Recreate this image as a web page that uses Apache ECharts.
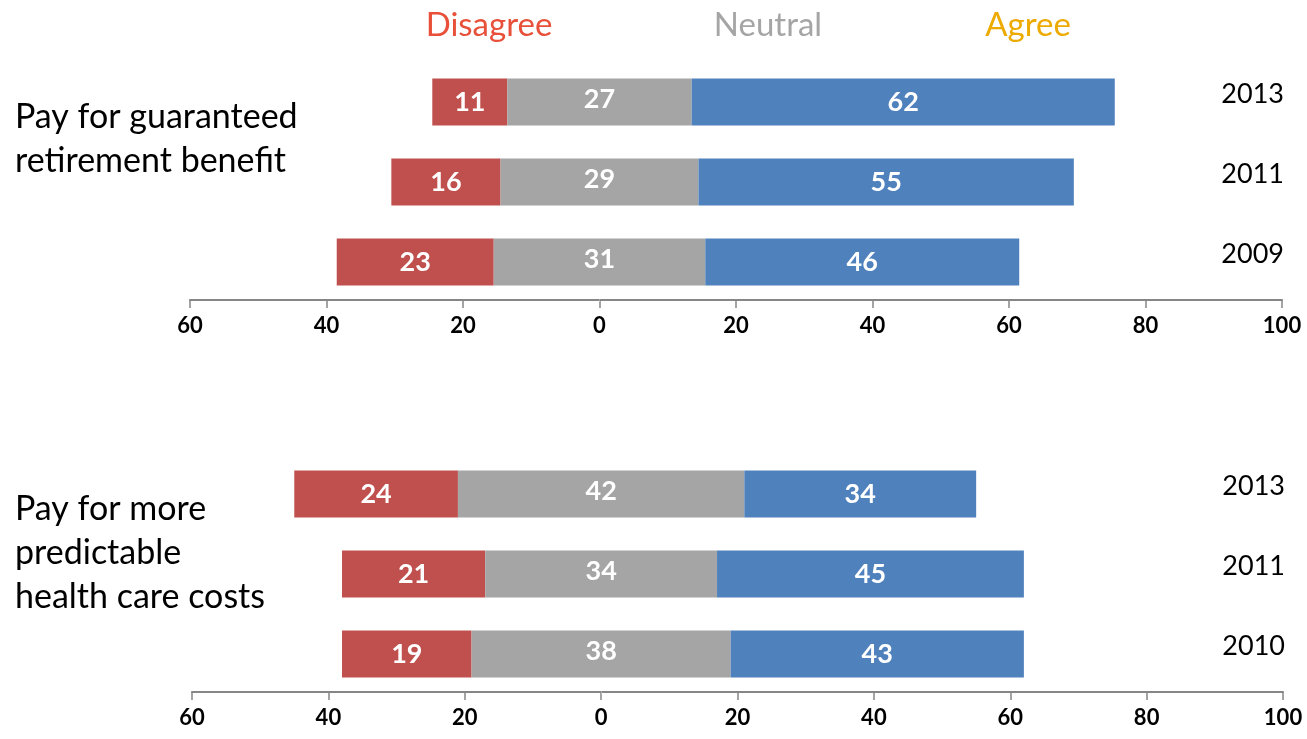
<!DOCTYPE html>
<html>
<head>
<meta charset="utf-8">
<script src="https://cdn.jsdelivr.net/npm/echarts@6/dist/echarts.min.js"></script>
<style>
html,body{margin:0;padding:0;background:#fff;}
#chart{width:1307px;height:739px;}
</style>
</head>
<body>
<div id="chart"></div>
<script>
// Panel 1: Pay for guaranteed retirement benefit
const years1 = ['2013', '2011', '2009'];
const disagree1 = [11, 16, 23];
const neutral1 = [27, 29, 31];
const agree1 = [62, 55, 46];

// Panel 2: Pay for more predictable health care costs
const years2 = ['2013', '2011', '2010'];
const disagree2 = [24, 21, 19];
const neutral2 = [42, 34, 38];
const agree2 = [34, 45, 43];

const axisTicks = [-60, -40, -20, 0, 20, 40, 60, 80, 100];
const legendNames = ['Disagree', 'Neutral', 'Agree'];
const panelTitles = ['Pay for guaranteed\nretirement benefit', 'Pay for more\npredictable\nhealth care costs'];

const FONT = 'Lato, "Open Sans", sans-serif';
const C_RED = '#C0504D', C_GRAY = '#A5A5A5', C_BLUE = '#4F81BD';

function makeSeries(idx, dis, neu, agr) {
  const base = dis.map((d, i) => -(d + neu[i] / 2));
  const common = {
    type: 'bar', stack: 's' + idx, stackStrategy: 'all',
    xAxisIndex: idx, yAxisIndex: idx, barWidth: 47
  };
  const lbl = () => ({
    show: true, position: 'inside', color: '#fff', fontSize: 27,
    fontWeight: 'bold', fontFamily: FONT
  });
  return [
    Object.assign({}, common, {
      name: 'base' + idx, data: base, silent: true,
      itemStyle: { color: 'transparent' }, label: { show: false }
    }),
    Object.assign({}, common, {
      name: legendNames[0], data: dis, itemStyle: { color: C_RED }, label: lbl()
    }),
    Object.assign({}, common, {
      name: legendNames[1], data: neu, itemStyle: { color: C_GRAY },
      label: Object.assign(lbl(), { offset: [0, -3] }),
      markLine: {
        silent: true, symbol: 'none', label: { show: false }, z: 1,
        lineStyle: { color: 'rgba(255,255,255,0.3)', width: 1, type: 'solid' },
        data: [{ xAxis: 0 }]
      }
    }),
    Object.assign({}, common, {
      name: legendNames[2], data: agr, itemStyle: { color: C_BLUE }, label: lbl()
    })
  ];
}

function makeXAxis(idx) {
  return {
    type: 'value', gridIndex: idx, min: axisTicks[0], max: axisTicks[axisTicks.length - 1],
    interval: 20, position: 'bottom', offset: -2,
    splitLine: { show: false },
    axisLine: { show: true, lineStyle: { color: '#868686', width: 2 } },
    axisTick: { show: true, length: 8, lineStyle: { color: '#868686', width: 1.5 } },
    axisLabel: {
      formatter: v => String(Math.abs(v)), color: '#000', fontSize: 22,
      fontWeight: 'bold', fontFamily: FONT, margin: 15
    }
  };
}

function makeYAxis(idx, years) {
  return {
    type: 'category', gridIndex: idx, data: years, inverse: true, position: 'right',
    axisLine: { show: false }, axisTick: { show: false },
    axisLabel: {
      inside: true, margin: -2, color: '#000', fontSize: 27, fontFamily: FONT,
      verticalAlign: 'bottom', lineHeight: 16
    }
  };
}

const chart = echarts.init(document.getElementById('chart'), null, { renderer: 'canvas' });

const legendX = [489, 768, 1028];
const legendColors = ['#E8503A', '#A5A5A5', '#EDAA00'];

const graphics = [];
legendNames.forEach((n, i) => {
  graphics.push({
    type: 'text', x: legendX[i], y: 25,
    style: { text: n, fill: legendColors[i], font: '33px ' + FONT, textAlign: 'center', textVerticalAlign: 'middle' }
  });
});
graphics.push({
  type: 'text', x: 15, y: 95,
  style: { text: panelTitles[0], fill: '#000', font: '34px ' + FONT, lineHeight: 44, textAlign: 'left', textVerticalAlign: 'top' }
});
graphics.push({
  type: 'text', x: 15, y: 487,
  style: { text: panelTitles[1], fill: '#000', font: '34px ' + FONT, lineHeight: 44, textAlign: 'left', textVerticalAlign: 'top' }
});

chart.setOption({
  animation: false,
  backgroundColor: '#fff',
  grid: [
    { left: 190, width: 1092, top: 62, height: 240 },
    { left: 192, width: 1091, top: 454, height: 240 }
  ],
  xAxis: [makeXAxis(0), makeXAxis(1)],
  yAxis: [makeYAxis(0, years1), makeYAxis(1, years2)],
  series: [].concat(makeSeries(0, disagree1, neutral1, agree1), makeSeries(1, disagree2, neutral2, agree2)),
  graphic: graphics
});
</script>
</body>
</html>
